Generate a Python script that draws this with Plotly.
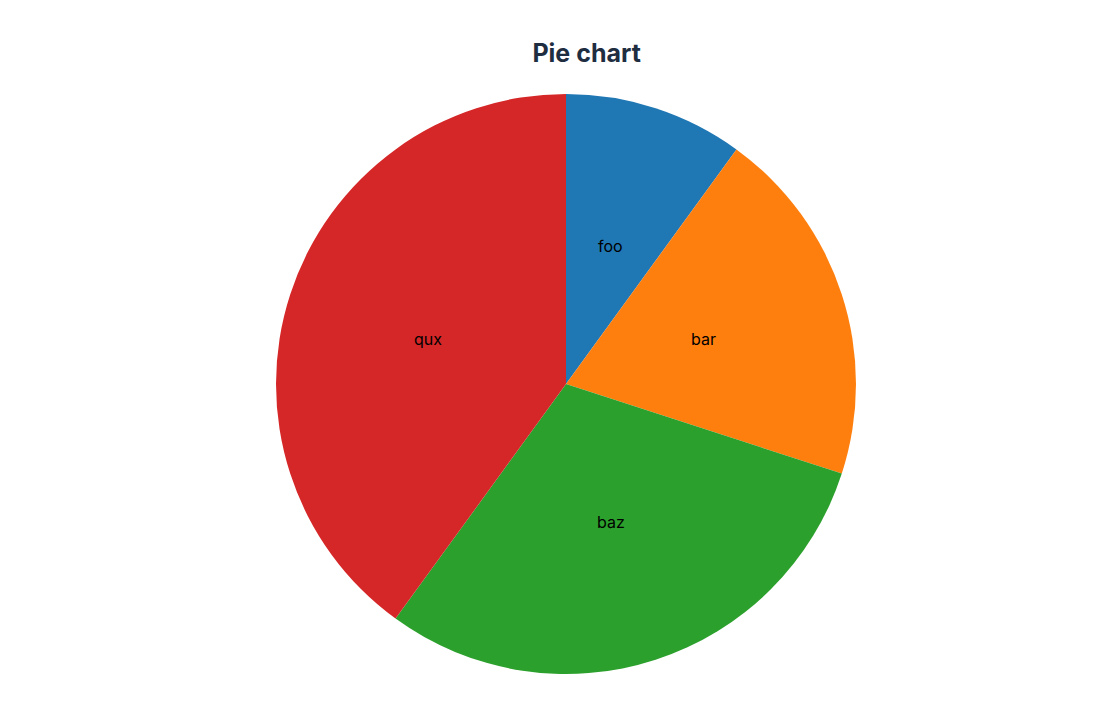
import numpy as np
import plotly.graph_objects as go

labels = ["foo", "bar", "baz", "qux"]
values = [10, 20, 30, 40]
colors = ["#1f77b4", "#ff7f0e", "#2ca02c", "#d62728"]

W, H = 1100, 706
ml, mr, mt, mb = 72, 56, 86, 40
pw, ph = W - ml - mr, H - mt - mb
radius = min(pw, ph) / 2

fig = go.Figure(go.Pie(
    labels=labels,
    values=values,
    sort=False,
    direction="clockwise",
    rotation=0,
    marker=dict(colors=colors, line=dict(width=0)),
    textinfo="none",
    hoverinfo="label+value+percent",
))

# labels at half radius on each slice's mid angle
cum = np.cumsum(values)
mid = (cum - np.array(values) / 2) / cum[-1] * 2 * np.pi
for lab, a in zip(labels, mid):
    fig.add_annotation(
        x=0.5 + 0.5 * radius * np.sin(a) / pw,
        y=0.5 + 0.5 * radius * np.cos(a) / ph,
        xref="paper", yref="paper",
        xanchor="center", yanchor="middle",
        text=lab, showarrow=False,
        font=dict(family="Inter", size=16, color="#000000"),
    )

fig.update_layout(
    width=W,
    height=H,
    title=dict(text="<b>Pie chart</b>", x=0.526, xanchor="center", y=0.936, yanchor="middle",
               font=dict(family="Inter", size=25, color="#1e2d3f")),
    showlegend=False,
    margin=dict(l=ml, r=mr, t=mt, b=mb),
    paper_bgcolor="white",
    font=dict(family="Inter"),
)

fig.write_html("out.html")
